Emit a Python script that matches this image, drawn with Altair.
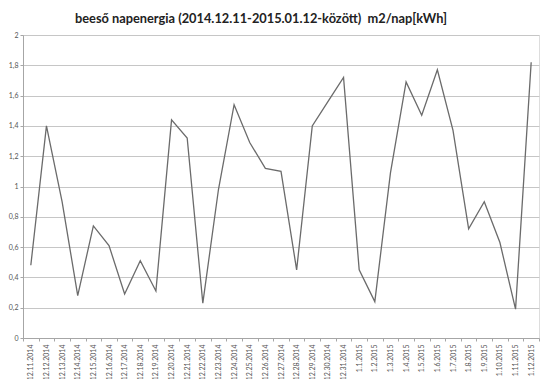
import altair as alt
import pandas as pd

dates = ["12.11.2014", "12.12.2014", "12.13.2014", "12.14.2014", "12.15.2014",
         "12.16.2014", "12.17.2014", "12.18.2014", "12.19.2014", "12.20.2014",
         "12.21.2014", "12.22.2014", "12.23.2014", "12.24.2014", "12.25.2014",
         "12.26.2014", "12.27.2014", "12.28.2014", "12.29.2014", "12.30.2014",
         "12.31.2014", "1.1.2015", "1.2.2015", "1.3.2015", "1.4.2015",
         "1.5.2015", "1.6.2015", "1.7.2015", "1.8.2015", "1.9.2015",
         "1.10.2015", "1.11.2015", "1.12.2015"]
values = [0.48, 1.40, 0.90, 0.28, 0.74,
          0.61, 0.29, 0.51, 0.31, 1.44,
          1.32, 0.23, 0.98, 1.54, 1.29,
          1.12, 1.10, 0.45, 1.40, 1.56,
          1.72, 0.45, 0.24, 1.09, 1.69,
          1.47, 1.77, 1.37, 0.72, 0.90,
          0.63, 0.19, 1.82]
y_ticks = [0, 0.2, 0.4, 0.6, 0.8, 1.0, 1.2, 1.4, 1.6, 1.8, 2.0]

df = pd.DataFrame({"date": dates, "value": values})

font = "Lato"

chart = alt.Chart(df).mark_line(color="#6b6b6b", strokeWidth=1.3).encode(
    x=alt.X("date:O", sort=None, title=None, bandPosition=0.5,
            scale=alt.Scale(type="band", paddingInner=0, paddingOuter=0),
            axis=alt.Axis(labelAngle=-90, tickBand="extent", labelFontSize=7,
                          labelColor="#555555", labelFont=font, tickSize=3,
                          tickColor="#a6a6a6", domainColor="#a6a6a6",
                          labelPadding=3, grid=False)),
    y=alt.Y("value:Q", title=None,
            scale=alt.Scale(domain=[0, 2], nice=False),
            axis=alt.Axis(values=y_ticks,
                          labelExpr="replace(format(datum.value, '~g'), '.', ',')",
                          labelFontSize=7, labelColor="#555555", labelFont=font,
                          tickSize=3, tickColor="#a6a6a6", domainColor="#a6a6a6",
                          gridColor="#c6c6c6", labelPadding=2)),
).properties(
    width=516,
    height=303,
    title=alt.TitleParams("beeső napenergia (2014.12.11-2015.01.12-között)\u00a0 m2/nap[kWh]",
                          fontSize=12.8, font=font, fontWeight="bold", color="#222222",
                          anchor="middle", dx=-20, offset=5),
    autosize=alt.AutoSizeParams(type="none"),
    padding={"left": 15, "top": 27, "right": 2, "bottom": 41},
).configure_view(stroke=None).configure(background="white")

chart.save("out.html", embed_options={"renderer": "svg", "actions": False})
